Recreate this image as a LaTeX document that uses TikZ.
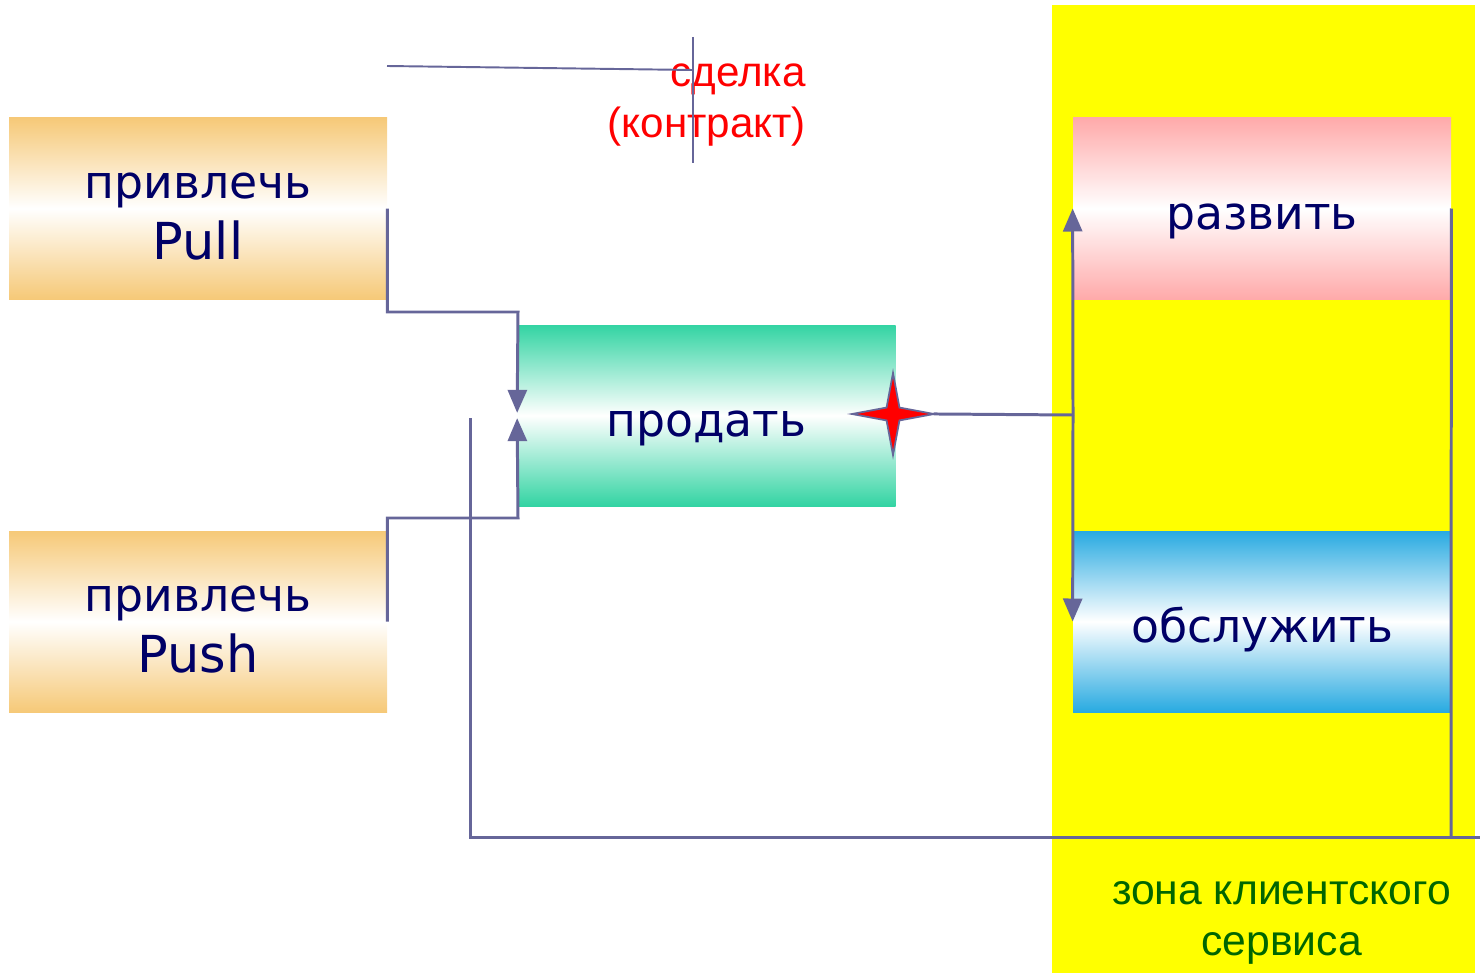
\documentclass[tikz,border=0pt]{standalone}
\usepackage{fontspec}
\setmainfont{Liberation Sans}
\newfontfamily\stagefont{DejaVu Sans}
\usetikzlibrary{arrows.meta,shapes.geometric}

\definecolor{pullc}{RGB}{246,201,120}
\definecolor{sellc}{RGB}{51,212,163}
\definecolor{growc}{RGB}{255,170,170}
\definecolor{servec}{RGB}{40,170,225}
\definecolor{flowc}{RGB}{102,102,153}
\definecolor{navyc}{RGB}{0,0,102}
\definecolor{zonec}{RGB}{0,102,0}
\definecolor{zonefill}{RGB}{255,255,0}

% label text sits a little below the box centre
\newcommand\lowered[1]{\raisebox{-0.17cm}[\height][\depth]{\begin{tabular}{@{}c@{}}#1\end{tabular}}}

\begin{document}
\begin{tikzpicture}[
stage/.style={rectangle, minimum width=7.56cm, minimum height=3.62cm, inner sep=0pt,
  align=center, text=navyc, font=\stagefont\fontsize{26}{34.5}\selectfont},
pullbox/.style={stage, top color=pullc, bottom color=pullc, middle color=white},
sellbox/.style={stage, top color=sellc, bottom color=sellc, middle color=white},
growbox/.style={stage, top color=growc, bottom color=growc, middle color=white},
servebox/.style={stage, top color=servec, bottom color=servec, middle color=white},
flow/.style={draw=flowc, line width=1.7pt},
arr/.style={flow, -{Triangle[length=0.46cm, width=0.38cm]}},
thin/.style={draw=flowc, line width=1.1pt},
]
\useasboundingbox (0,0) rectangle (29.6,-19.46);

% client service zone
\fill[zonefill] (21.04,-0.1) rectangle (29.5,-19.46);

% stages
\node[pullbox] (pull) at (3.96,-4.17) {\lowered{привлечь\\{\fontsize{29}{34.5}\selectfont Pull}}};
\node[pullbox] (push) at (3.96,-12.43) {\lowered{привлечь\\{\fontsize{29}{34.5}\selectfont Push}}};
\node[sellbox] (sell) at (14.13,-8.31) {\lowered{продать}};
\node[growbox] (grow) at (25.24,-4.17) {\lowered{развить}};
\node[servebox] (serve) at (25.24,-12.43) {\lowered{обслужить}};

% deal star
\node[star, star points=4, star point ratio=4.5, minimum size=1.64cm, inner sep=0pt,
  fill=red, draw=flowc, line width=1pt] (deal) at (17.86,-8.28) {};

% labels
\node[anchor=east, align=right, text=red, font=\fontsize{24}{28.5}\selectfont]
  (dealtext) at (16.24,-2.1) {сделка\\(контракт)};
\node[align=center, text=zonec, font=\fontsize{24.3}{29.5}\selectfont]
  (zonetext) at (25.63,-18.46) {зона клиентского\\сервиса};

% bends and free ends
\coordinate (pullturn) at (10.36,-6.24);
\coordinate (pushturn) at (10.36,-10.36);
\coordinate (split) at (21.46,-8.3);
\coordinate (loopstart) at (9.4,-8.36);
\coordinate (loopleft) at (9.4,-16.74);
\coordinate (loopright) at (29.02,-16.74);
\coordinate (loopend) at (29.6,-16.74);
\coordinate (dealfrom) at (7.74,-1.32);
\coordinate (dealto) at (13.86,-1.4);
\coordinate (dealtop) at (13.86,-0.74);
\coordinate (dealbottom) at (13.86,-3.26);

% connectors
\draw[arr] (pull.east) |- (pullturn) -- ([yshift=1.5pt]sell.west);
\draw[arr] (push.east) |- (pushturn) -- ([yshift=-1.5pt]sell.west);
\draw[flow, shorten <=-3pt] (deal.east) -- (split);
\draw[arr] (split) -- (grow.west);
\draw[arr] (split) -- (serve.west);
\draw[flow] (grow.east) -- (loopright);
\draw[flow] (loopstart) -- (loopleft) -- (loopend);
\draw[thin] (dealfrom) -- (dealto);
\draw[thin] (dealtop) -- (dealbottom);

\end{tikzpicture}
\end{document}
